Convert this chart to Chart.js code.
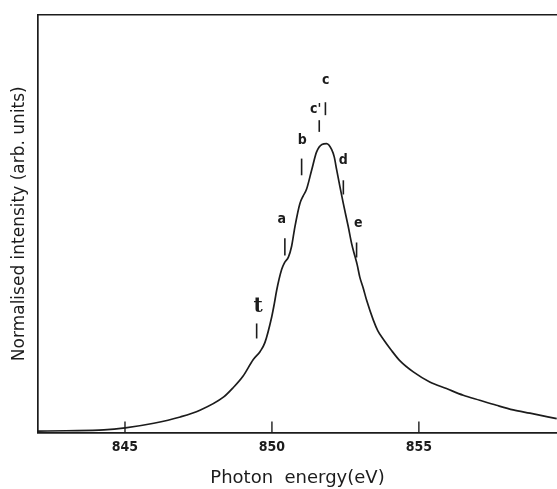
<!DOCTYPE html>
<html>
<head>
<meta charset="utf-8">
<script src="https://cdn.jsdelivr.net/npm/chart.js@4/dist/chart.umd.min.js"></script>
<style>
  body { margin: 0; background: #fff; }
  #wrap { width: 557px; height: 489px; }
</style>
</head>
<body>
<div id="wrap"><canvas id="spectrum"></canvas></div>
<script>
// photon energy (eV) and normalised intensity
const energy = [842.04, 843.0, 844.28, 845.01, 845.98, 846.88, 847.55, 848.36, 848.68, 849.02,
  849.36, 849.60, 849.76, 849.99, 850.08, 850.16, 850.33, 850.44, 850.56,
  850.67, 850.78, 850.95, 851.06, 851.18, 851.35, 851.52, 851.70, 851.86,
  852.03, 852.12, 852.20, 852.31, 852.43, 852.60, 852.71, 852.82, 852.90, 852.99,
  853.11, 853.22, 853.45, 853.60, 853.79, 854.05, 854.35, 854.81, 855.37, 855.94,
  856.51, 857.07, 857.64, 858.21, 858.78, 859.69];
const intensity = [0.3, 0.4, 0.6, 1.1, 2.2, 3.7, 5.3, 8.5, 10.7, 13.5,
  17.4, 19.4, 21.5, 27.6, 30.8, 34.0, 39.0, 40.8, 42.0,
  44.6, 49.2, 54.8, 56.6, 58.3, 62.8, 67.2, 69.0, 69.2,
  67.8, 66.0, 63.0, 59.0, 54.8, 49.2, 45.3, 42.3, 40.2, 37.2,
  34.5, 31.7, 26.9, 24.4, 22.3, 19.8, 17.2, 14.5, 12.1, 10.5,
  8.9, 7.7, 6.5, 5.4, 4.6, 3.3];

const tickValues = [845, 850, 855];

// feature markers: label, energy of the tick, tick extent, label position
const markerNames = ['t', 'a', 'b', "c'", 'c', 'd', 'e'];
const markerE = [849.48, 850.44, 851.01, 851.61, 851.82, 852.43, 852.88];
const markerLow = [22.5, 42.4, 61.6, 72.0, 76.0, 57.0, 41.9];
const markerHigh = [26.1, 46.5, 65.6, 74.8, 79.1, 60.4, 45.5];
const labelE = [849.53, 850.33, 851.03, 851.49, 851.83, 852.43, 852.94];
const labelI = [30.0, 51.0, 70.0, 77.4, 84.3, 65.2, 50.1];

const ink = '#1c1c1c';

const markerPlugin = {
  id: 'markers',
  afterDatasetsDraw(chart) {
    const { ctx, scales: { x, y } } = chart;
    ctx.save();
    ctx.strokeStyle = ink;
    ctx.fillStyle = ink;
    ctx.lineWidth = 1.4;
    // ticks point up into the plot
    tickValues.forEach(v => {
      const px = x.getPixelForValue(v);
      ctx.beginPath();
      ctx.moveTo(px, y.bottom);
      ctx.lineTo(px, y.bottom - 11);
      ctx.stroke();
    });
    ctx.lineWidth = 1.6;
    markerNames.forEach((name, i) => {
      const px = x.getPixelForValue(markerE[i]);
      ctx.beginPath();
      ctx.moveTo(px, y.getPixelForValue(markerLow[i]));
      ctx.lineTo(px, y.getPixelForValue(markerHigh[i]));
      ctx.stroke();
      ctx.textAlign = 'center';
      ctx.textBaseline = 'middle';
      ctx.font = name === 't'
        ? 'bold 20px "DejaVu Serif", serif'
        : 'bold 14px "DejaVu Sans Condensed", "DejaVu Sans", sans-serif';
      ctx.fillText(name, x.getPixelForValue(labelE[i]), y.getPixelForValue(labelI[i]));
    });
    ctx.restore();
  }
};

new Chart(document.getElementById('spectrum'), {
  type: 'line',
  data: {
    datasets: [{
      data: energy.map((e, i) => ({ x: e, y: intensity[i] })),
      borderColor: ink,
      borderWidth: 1.7,
      pointRadius: 0,
      fill: false,
      cubicInterpolationMode: 'monotone'
    }]
  },
  options: {
    responsive: true,
    maintainAspectRatio: false,
    animation: false,
    layout: { padding: { top: 15, left: 0, right: 0, bottom: 0 } },
    plugins: { legend: { display: false }, tooltip: { enabled: false } },
    scales: {
      x: {
        type: 'linear',
        min: 842.04,
        max: 859.7,
        afterBuildTicks: s => { s.ticks = tickValues.map(v => ({ value: v })); },
        grid: { display: false, drawTicks: false },
        border: { display: true, color: ink, width: 1.7 },
        ticks: {
          color: ink,
          padding: 6.6,
          maxRotation: 0,
          font: { family: '"DejaVu Sans Condensed", "DejaVu Sans", sans-serif', size: 14, weight: 'bold' }
        },
        title: {
          display: true,
          text: 'Photon  energy(eV)',
          color: ink,
          padding: { top: 4.8, bottom: 0.2 },
          font: { family: '"DejaVu Sans", sans-serif', size: 18 }
        }
      },
      top: {
        type: 'linear',
        position: 'top',
        min: 842.04,
        max: 859.7,
        grid: { display: false, drawTicks: false },
        border: { display: true, color: ink, width: 1.5 },
        ticks: { display: false }
      },
      y: {
        min: 0,
        max: 100,
        grid: { display: false, drawTicks: false },
        border: { display: true, color: ink, width: 1.7 },
        ticks: { display: false },
        title: {
          display: true,
          text: 'Normalised intensity (arb. units)',
          color: ink,
          padding: { top: 9.8, bottom: 7.8 },
          font: { family: '"DejaVu Sans", sans-serif', size: 17 }
        }
      }
    }
  },
  plugins: [markerPlugin]
});
</script>
</body>
</html>
